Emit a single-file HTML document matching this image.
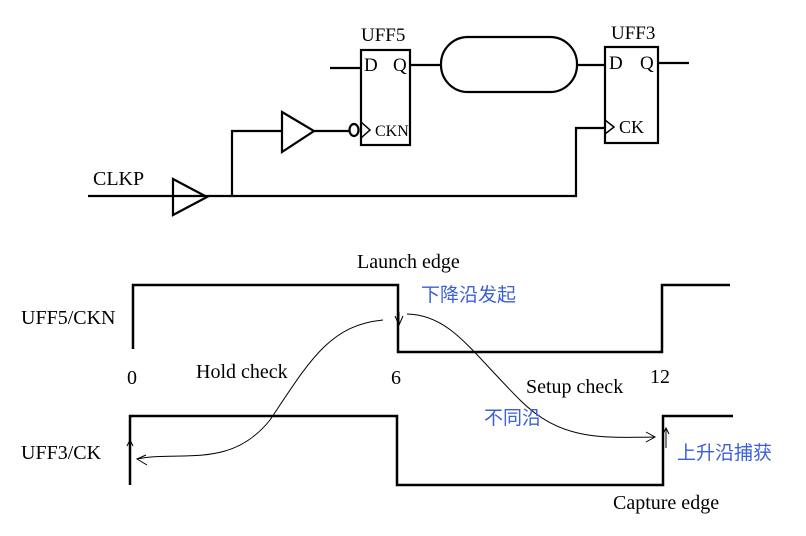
<!DOCTYPE html>
<html><head><meta charset="utf-8"><style>
body{margin:0;background:#fff}
svg{display:block}
text{font-family:"Liberation Serif",serif;font-size:20px;fill:#000}
.c{font-family:"Liberation Sans","Noto Sans CJK SC",sans-serif;fill:#3a5fd9;font-size:19px}
</style></head><body>
<svg width="806" height="536" viewBox="0 0 806 536">
<g stroke="#000" stroke-width="2.2" fill="none">
<rect x="361" y="50" width="49" height="95"/>
<rect x="605" y="47" width="53" height="96"/>
<line x1="330" y1="68" x2="361" y2="68"/>
<line x1="410" y1="65" x2="441" y2="65"/>
<rect x="441" y="37" width="136" height="55" rx="27"/>
<line x1="577" y1="65" x2="605" y2="65"/>
<line x1="658" y1="63" x2="689" y2="63"/>
<polyline points="88,196 576,196 576,128 605,128"/>
<polygon points="173,179 207,197 173,215"/>
<polyline points="232,196 232,131 282,131"/>
<polygon points="282,112 314,131 282,152"/>
<line x1="314" y1="131" x2="349" y2="131"/>
<ellipse cx="354" cy="130" rx="4.5" ry="6"/>
<polyline points="361,122 370,130 361,138" stroke-width="1.5"/>
<polyline points="605,120 614,127 605,134" stroke-width="1.5"/>
<polyline points="133,349 133,285 398,285 398,352 662,352 662,285 730,285" stroke-width="2.5"/>
<polyline points="130,485 130,416 397,416 397,485 663,485 663,416 733,416" stroke-width="2.5"/>
</g>
<g stroke="#000" stroke-width="1" fill="none">
<path d="M383,320 C330,325 310,360 270,420 C230,470 180,450 137,459"/>
<polyline points="146,455 137,459 147,465"/>
<path d="M407,314 C450,315 470,350 520,400 C560,440 600,438 655,437"/>
<polyline points="646,432 655,437 646,442"/>
<polyline points="395,316 399,325 403,316"/>
<line x1="399" y1="312" x2="399" y2="325"/>
<line x1="130" y1="440" x2="130" y2="455"/>
<polyline points="127,446 130,440 133,446"/>
<line x1="666" y1="428" x2="666" y2="448"/>
<polyline points="663,434 666,428 669,434"/>
</g>
<text x="361" y="41" style="font-size:19px">UFF5</text>
<text x="611" y="39" style="font-size:19px">UFF3</text>
<text x="364" y="71" style="font-size:19px">D</text>
<text x="393" y="71" style="font-size:19px">Q</text>
<text x="609" y="69" style="font-size:19px">D</text>
<text x="640" y="69" style="font-size:19px">Q</text>
<text x="375" y="136" style="font-size:16px">CKN</text>
<text x="619" y="133" style="font-size:18px">CK</text>
<text x="93" y="185">CLKP</text>
<text x="357" y="268">Launch edge</text>
<text x="21" y="324">UFF5/CKN</text>
<text x="21" y="459">UFF3/CK</text>
<text x="127" y="384">0</text>
<text x="196" y="378">Hold check</text>
<text x="391" y="384">6</text>
<text x="650" y="383">12</text>
<text x="526" y="393">Setup check</text>
<text x="613" y="509">Capture edge</text>
<text class="c" x="421" y="301">下降沿发起</text>
<text class="c" x="484" y="424">不同沿</text>
<text class="c" x="677" y="459">上升沿捕获</text>
</svg>
</body></html>
